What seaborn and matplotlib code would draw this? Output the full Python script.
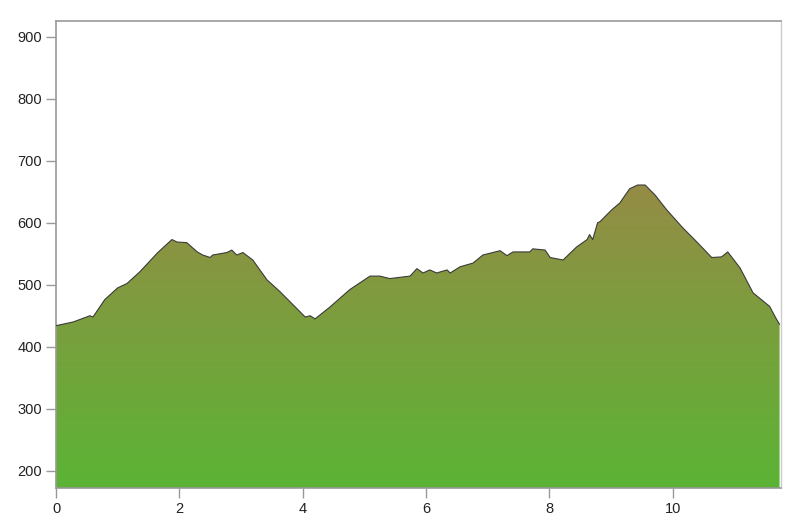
import numpy as np
import pandas as pd
import matplotlib
matplotlib.use("Agg")
import matplotlib.pyplot as plt
import seaborn as sns
from matplotlib.colors import LinearSegmentedColormap

distance = [0.00, 0.28, 0.55, 0.60, 0.79, 1.00, 1.15, 1.36, 1.65, 1.88, 1.96,
            2.12, 2.29, 2.38, 2.50, 2.54, 2.77, 2.85, 2.93, 3.03, 3.19, 3.42,
            3.63, 3.84, 4.04, 4.12, 4.20, 4.44, 4.76, 5.09, 5.25, 5.41, 5.74,
            5.85, 5.95, 6.06, 6.17, 6.34, 6.39, 6.55, 6.76, 6.92, 7.20, 7.31,
            7.41, 7.68, 7.73, 7.93, 8.01, 8.22, 8.44, 8.61, 8.65, 8.70, 8.78,
            8.82, 9.01, 9.14, 9.30, 9.43, 9.55, 9.71, 9.90, 10.16, 10.39,
            10.63, 10.79, 10.89, 11.09, 11.30, 11.57, 11.66, 11.73]
altitude = [434, 440, 450, 448, 476, 495, 502, 521, 552, 573, 569,
            568, 553, 548, 544, 548, 552, 556, 548, 552, 540, 508,
            489, 468, 448, 450, 445, 464, 492, 514, 514, 510, 514,
            526, 519, 524, 519, 524, 519, 529, 535, 548, 555, 547,
            553, 553, 558, 556, 544, 540, 561, 573, 581, 573, 600,
            602, 621, 632, 655, 661, 661, 645, 621, 592, 569,
            544, 545, 553, 527, 487, 465, 448, 436]

df = pd.DataFrame({"distance": distance, "altitude": altitude})

sns.set_style("white")
plt.rcParams["font.family"] = ["Liberation Sans", "DejaVu Sans"]

fig = plt.figure(figsize=(8, 5.2), dpi=100)
ax = fig.add_axes([0.07, 0.0615, 0.906, 0.8985])

ymin, ymax = 172, 926
xmax = 11.75

# dégradé vert -> olive, découpé par le profil
cmap = LinearSegmentedColormap.from_list("relief", ["#5bb435", "#958c45"])
grad = np.linspace(0, 1, 256).reshape(-1, 1)
top = max(altitude)
img = ax.imshow(grad, cmap=cmap, aspect="auto", origin="lower",
                extent=[0, xmax, ymin, top], zorder=1)
poly = ax.fill_between(df["distance"], df["altitude"], ymin, color="none")
clip = poly.get_paths()[0]
img.set_clip_path(clip, transform=ax.transData)

sns.lineplot(data=df, x="distance", y="altitude", ax=ax, color="#3a3a3a",
             linewidth=0.8, zorder=3)

ax.set_xlim(0, xmax)
ax.set_ylim(ymin, ymax)
ax.set_xticks([0, 2, 4, 6, 8, 10])
ax.set_yticks([200, 300, 400, 500, 600, 700, 800, 900])
ax.set_xlabel("")
ax.set_ylabel("")
ax.tick_params(axis="both", direction="out", length=7, width=1, color="#999999",
               labelsize=10.5, labelcolor="#222222", bottom=True, left=True, pad=3)

for side in ["left", "top", "bottom"]:
    ax.spines[side].set_color("#999999")
    ax.spines[side].set_linewidth(1.2)
ax.spines["right"].set_color("#cccccc")
ax.spines["right"].set_linewidth(1.0)

fig.savefig("out.png", dpi=100)
